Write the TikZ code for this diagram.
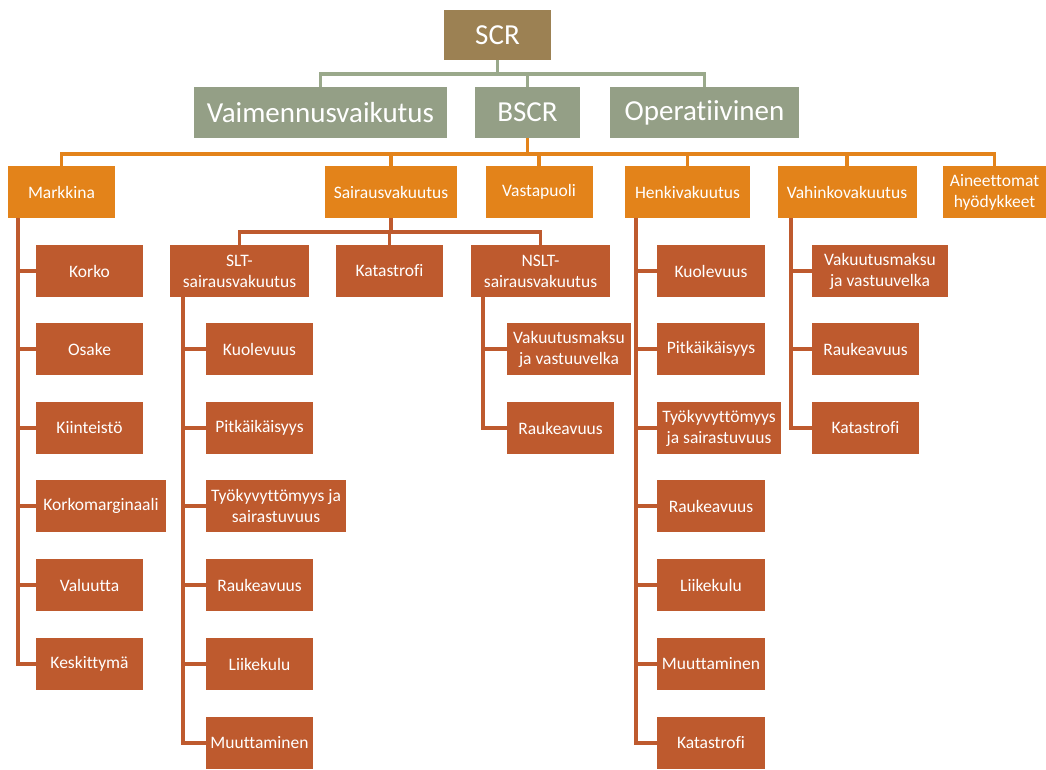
\documentclass[tikz,border=0pt]{standalone}
\usepackage{fontspec}
\setmainfont[Ligatures=CommonOff]{Carlito}
\definecolor{cbrown}{HTML}{9C8153}
\definecolor{cgreen}{HTML}{949F86}
\definecolor{cgline}{HTML}{9AA98B}
\definecolor{corange}{HTML}{E3831A}
\definecolor{cred}{HTML}{BE5A2E}
\tikzset{
  box/.style={rectangle, inner sep=0pt, text=white, align=center, minimum height=52pt},
  topbox/.style={box, fill=cbrown, minimum height=50pt, font=\fontsize{29}{32}\selectfont},
  gbox/.style={box, fill=cgreen, minimum height=51pt, font=\fontsize{29}{32}\selectfont},
  obox/.style={box, fill=corange, font=\fontsize{17.5}{21}\selectfont},
  rbox/.style={box, fill=cred, font=\fontsize{17.5}{21}\selectfont},
  gline/.style={draw=cgline, line width=3.5pt},
  oline/.style={draw=corange, line width=3.5pt},
  rline/.style={draw=cred, line width=3.5pt},
}
\begin{document}
\begin{tikzpicture}[x=1pt,y=-1pt]
\useasboundingbox (0,0) rectangle (1046,769);
% level 0
\node[topbox, minimum width=107pt] (scr) at (497.5,35) {SCR};
% level 1
\node[gbox, minimum width=253pt] (vaim) at (320.5,112.5) {Vaimennusvaikutus};
\node[gbox, minimum width=105pt] (bscr) at (527.5,112.5) {BSCR};
\node[gbox, minimum width=189pt] (oper) at (704.5,112.5) {Operatiivinen};
% level 2
\node[obox, minimum width=107pt] (mark) at (61.5,192) {Markkina};
\node[obox, minimum width=132pt] (sair) at (391,192) {Sairausvakuutus};
\node[obox, minimum width=107pt] (vast) at (539,192) {Vastapuoli};
\node[obox, minimum width=125pt] (henk) at (687.5,192) {Henkivakuutus};
\node[obox, minimum width=139pt] (vahi) at (847,192) {Vahinkovakuutus};
\node[obox, minimum width=103pt] (aine) at (994.5,192) {Aineettomat\\hyödykkeet};
% Markkina children
\node[rbox, minimum width=107pt] (m1) at (89.5,271) {Korko};
\node[rbox, minimum width=107pt] (m2) at (89.5,349) {Osake};
\node[rbox, minimum width=107pt] (m3) at (89.5,428) {Kiinteistö};
\node[rbox, minimum width=130pt] (m4) at (101,506) {Korkomarginaali};
\node[rbox, minimum width=107pt] (m5) at (89.5,585) {Valuutta};
\node[rbox, minimum width=107pt] (m6) at (89.5,664) {Keskittymä};
% Sairausvakuutus children
\node[rbox, minimum width=139pt] (slt) at (239.5,271) {SLT-\\sairausvakuutus};
\node[rbox, minimum width=107pt] (kat) at (389.5,271) {Katastrofi};
\node[rbox, minimum width=139pt] (nslt) at (540.5,271) {NSLT-\\sairausvakuutus};
% SLT children
\node[rbox, minimum width=107pt] (s1) at (259.5,349) {Kuolevuus};
\node[rbox, minimum width=107pt] (s2) at (259.5,428) {Pitkäikäisyys};
\node[rbox, minimum width=140pt] (s3) at (276,506) {Työkyvyttömyys ja\\sairastuvuus};
\node[rbox, minimum width=107pt] (s4) at (259.5,585) {Raukeavuus};
\node[rbox, minimum width=107pt] (s5) at (259.5,664) {Liikekulu};
\node[rbox, minimum width=107pt] (s6) at (259.5,743) {Muuttaminen};
% NSLT children
\node[rbox, minimum width=124pt] (n1) at (569,349) {Vakuutusmaksu\\ja vastuuvelka};
\node[rbox, minimum width=107pt] (n2) at (560.5,428) {Raukeavuus};
% Henkivakuutus children
\node[rbox, minimum width=108pt] (h1) at (711,271) {Kuolevuus};
\node[rbox, minimum width=108pt] (h2) at (711,349) {Pitkäikäisyys};
\node[rbox, minimum width=124pt] (h3) at (719,428) {Työkyvyttömyys\\ja sairastuvuus};
\node[rbox, minimum width=108pt] (h4) at (711,506) {Raukeavuus};
\node[rbox, minimum width=108pt] (h5) at (711,585) {Liikekulu};
\node[rbox, minimum width=108pt] (h6) at (711,664) {Muuttaminen};
\node[rbox, minimum width=108pt] (h7) at (711,743) {Katastrofi};
% Vahinkovakuutus children
\node[rbox, minimum width=136pt] (v1) at (880,271) {Vakuutusmaksu\\ja vastuuvelka};
\node[rbox, minimum width=107pt] (v2) at (865.5,349) {Raukeavuus};
\node[rbox, minimum width=107pt] (v3) at (865.5,428) {Katastrofi};

% green connectors
\coordinate (gbus) at (0,74);
\draw[gline] (scr.south) -- (scr.south |- gbus);
\draw[gline] (vaim.north) -- (vaim.north |- gbus) -| (oper.north);
\draw[gline] (bscr.north) -- (bscr.north |- gbus);
% orange connectors
\coordinate (obus) at (0,154);
\draw[oline] (bscr.south) -- (bscr.south |- obus);
\draw[oline] (mark.north) -- (mark.north |- obus) -| (aine.north);
\foreach \n in {sair,vast,henk,vahi} \draw[oline] (\n.north) -- (\n.north |- obus);
% Sairausvakuutus bus
\coordinate (rbus) at (0,232);
\draw[rline] (sair.south) -- (sair.south |- rbus);
\draw[rline] (slt.north) -- (slt.north |- rbus) -| (nslt.north);
\draw[rline] (kat.north) -- (kat.north |- rbus);
% Markkina tree
\coordinate (mx) at (18,0);
\draw[rline] (mark.south -| mx) |- (m6.west);
\foreach \c in {m1,m2,m3,m4,m5} \draw[rline] (\c.west) -- (\c.west -| mx);
% SLT tree
\coordinate (sx) at (183,0);
\draw[rline] (slt.south -| sx) |- (s6.west);
\foreach \c in {s1,s2,s3,s4,s5} \draw[rline] (\c.west) -- (\c.west -| sx);
% NSLT tree
\coordinate (nx) at (483,0);
\draw[rline] (nslt.south -| nx) |- (n2.west);
\draw[rline] (n1.west) -- (n1.west -| nx);
% Henkivakuutus tree
\coordinate (hx) at (636,0);
\draw[rline] (henk.south -| hx) |- (h7.west);
\foreach \c in {h1,h2,h3,h4,h5,h6} \draw[rline] (\c.west) -- (\c.west -| hx);
% Vahinkovakuutus tree
\coordinate (vx) at (791,0);
\draw[rline] (vahi.south -| vx) |- (v3.west);
\foreach \c in {v1,v2} \draw[rline] (\c.west) -- (\c.west -| vx);
\end{tikzpicture}
\end{document}
